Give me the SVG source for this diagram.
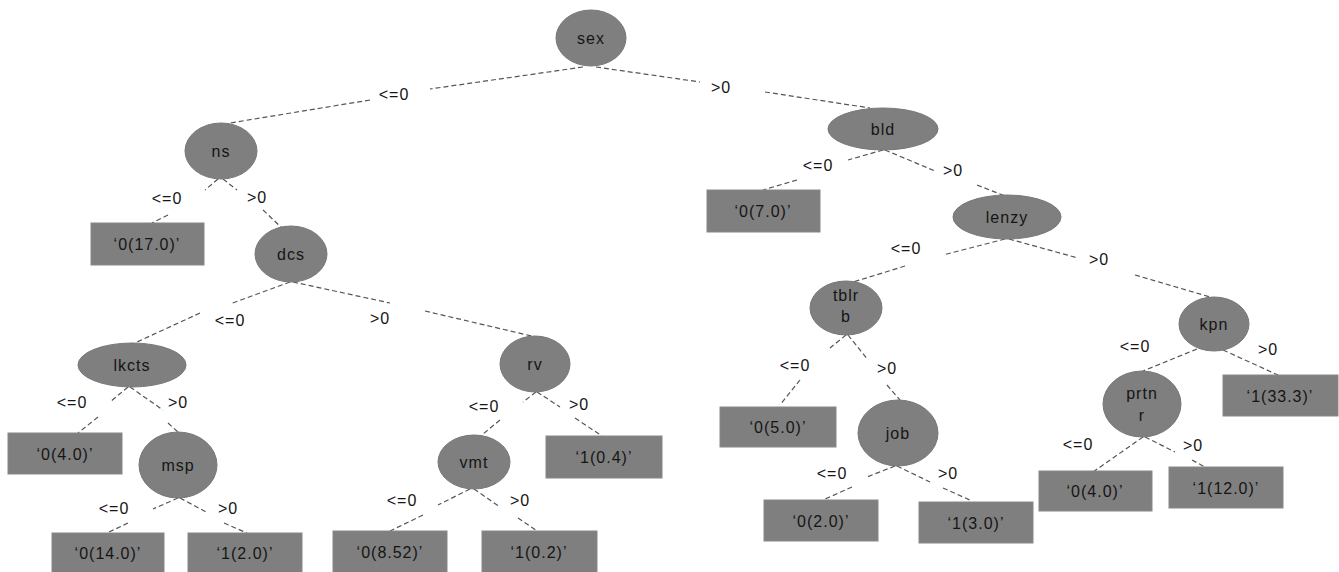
<svg xmlns="http://www.w3.org/2000/svg" width="1339" height="572" viewBox="0 0 1339 572">
<style>
.n{fill:#7f7f7f;stroke:#777;stroke-width:1}
.lf{fill:#7f7f7f;stroke:#888;stroke-width:1}
.t{font-family:"Liberation Sans",Arial,sans-serif;font-size:16px;fill:#151515;text-anchor:middle;letter-spacing:1px}
.e path{fill:none;stroke:#555;stroke-width:1.2;stroke-dasharray:5 3}
</style>
<rect width="1339" height="572" fill="#fff"/>
<g class="e" id="connectors">
<path d="M583,67 L430,89 M370,100 L230,123"/>
<path d="M596,67 L700,82 M765,92 L870,108"/>
<path d="M218,179 L205,190 M168,215 L152,223"/>
<path d="M223,179 L237,190 M263,210 L282,228"/>
<path d="M290,282 L230,304 M200,313 L137,342"/>
<path d="M293,282 L390,303 M425,311 L540,338"/>
<path d="M128,387 L110,402 M98,417 L78,433"/>
<path d="M130,387 L163,410 M168,423 L178,432"/>
<path d="M178,498 L153,509 M128,523 L107,533"/>
<path d="M180,498 L208,513 M224,523 L247,533"/>
<path d="M536,392 L523,402 M500,420 L483,434"/>
<path d="M537,392 L560,407 M575,418 L602,436"/>
<path d="M470,489 L438,505 M423,515 L390,531"/>
<path d="M474,489 L500,507 M518,518 L537,531"/>
<path d="M883,150 L848,160 M797,180 L763,190"/>
<path d="M885,150 L935,171 M977,185 L1005,196"/>
<path d="M1005,239 L943,255 M905,266 L850,283"/>
<path d="M1009,239 L1078,258 M1135,275 L1210,297"/>
<path d="M846,335 L830,348 M800,380 L780,405"/>
<path d="M848,335 L868,360 M887,385 L900,400"/>
<path d="M895,466 L867,477 M852,487 L823,500"/>
<path d="M897,466 L930,482 M943,488 L972,501"/>
<path d="M1197,349 L1143,371"/>
<path d="M1223,350 L1278,375"/>
<path d="M1143,437 L1093,472"/>
<path d="M1145,437 L1175,452 M1192,460 L1205,467"/>
</g>
<g id="edge-labels">
<text class="t" x="394" y="100">&lt;=0</text>
<text class="t" x="721" y="93">&gt;0</text>
<text class="t" x="167" y="204">&lt;=0</text>
<text class="t" x="257" y="203">&gt;0</text>
<text class="t" x="230" y="326">&lt;=0</text>
<text class="t" x="380" y="324">&gt;0</text>
<text class="t" x="72" y="408">&lt;=0</text>
<text class="t" x="178" y="408">&gt;0</text>
<text class="t" x="114" y="514">&lt;=0</text>
<text class="t" x="228" y="514">&gt;0</text>
<text class="t" x="484" y="412">&lt;=0</text>
<text class="t" x="579" y="410">&gt;0</text>
<text class="t" x="402" y="506">&lt;=0</text>
<text class="t" x="520" y="506">&gt;0</text>
<text class="t" x="818" y="171">&lt;=0</text>
<text class="t" x="953" y="176">&gt;0</text>
<text class="t" x="906" y="254">&lt;=0</text>
<text class="t" x="1099" y="265">&gt;0</text>
<text class="t" x="795" y="371">&lt;=0</text>
<text class="t" x="887" y="374">&gt;0</text>
<text class="t" x="832" y="479">&lt;=0</text>
<text class="t" x="948" y="479">&gt;0</text>
<text class="t" x="1135" y="352">&lt;=0</text>
<text class="t" x="1268" y="355">&gt;0</text>
<text class="t" x="1078" y="450">&lt;=0</text>
<text class="t" x="1193" y="451">&gt;0</text>
</g>
<g id="sex"><ellipse class="n" cx="591" cy="38" rx="35" ry="28"/><text class="t" x="591" y="44">sex</text></g>
<g id="ns"><ellipse class="n" cx="221" cy="151" rx="36" ry="28"/><text class="t" x="221" y="157">ns</text></g>
<g id="leaf-0-17"><rect class="lf" x="91" y="223" width="113" height="42"/><text class="t" x="147" y="250">‘0(17.0)’</text></g>
<g id="dcs"><ellipse class="n" cx="291" cy="254" rx="36" ry="28"/><text class="t" x="291" y="260">dcs</text></g>
<g id="lkcts"><ellipse class="n" cx="132" cy="365" rx="54" ry="22"/><text class="t" x="132" y="371">lkcts</text></g>
<g id="leaf-0-4a"><rect class="lf" x="8" y="433" width="114" height="41"/><text class="t" x="65" y="460">‘0(4.0)’</text></g>
<g id="msp"><ellipse class="n" cx="178" cy="465" rx="39" ry="33"/><text class="t" x="178" y="471">msp</text></g>
<g id="leaf-0-14"><rect class="lf" x="52" y="533" width="112" height="40"/><text class="t" x="108" y="559">‘0(14.0)’</text></g>
<g id="leaf-1-2"><rect class="lf" x="188" y="533" width="114" height="40"/><text class="t" x="245" y="559">‘1(2.0)’</text></g>
<g id="rv"><ellipse class="n" cx="535" cy="364" rx="35" ry="28"/><text class="t" x="535" y="370">rv</text></g>
<g id="vmt"><ellipse class="n" cx="474" cy="462" rx="36" ry="27"/><text class="t" x="474" y="468">vmt</text></g>
<g id="leaf-1-04"><rect class="lf" x="546" y="436" width="116" height="42"/><text class="t" x="604" y="463">‘1(0.4)’</text></g>
<g id="leaf-0-852"><rect class="lf" x="333" y="531" width="114" height="42"/><text class="t" x="390" y="558">‘0(8.52)’</text></g>
<g id="leaf-1-02"><rect class="lf" x="482" y="531" width="115" height="42"/><text class="t" x="539" y="558">‘1(0.2)’</text></g>
<g id="bld"><ellipse class="n" cx="883" cy="129" rx="55" ry="21"/><text class="t" x="883" y="135">bld</text></g>
<g id="leaf-0-7"><rect class="lf" x="707" y="190" width="113" height="42"/><text class="t" x="763" y="217">‘0(7.0)’</text></g>
<g id="lenzy"><ellipse class="n" cx="1007" cy="217" rx="54" ry="22"/><text class="t" x="1007" y="223">lenzy</text></g>
<g id="tblrb"><ellipse class="n" cx="846" cy="308" rx="36" ry="27"/><text class="t" x="846" y="301">tblr</text><text class="t" x="846" y="322">b</text></g>
<g id="leaf-0-5"><rect class="lf" x="720" y="407" width="116" height="40"/><text class="t" x="778" y="433">‘0(5.0)’</text></g>
<g id="job"><ellipse class="n" cx="898" cy="433" rx="40" ry="33"/><text class="t" x="898" y="439">job</text></g>
<g id="leaf-0-2"><rect class="lf" x="764" y="500" width="114" height="41"/><text class="t" x="821" y="527">‘0(2.0)’</text></g>
<g id="leaf-1-3"><rect class="lf" x="919" y="502" width="114" height="41"/><text class="t" x="976" y="529">‘1(3.0)’</text></g>
<g id="kpn"><ellipse class="n" cx="1214" cy="324" rx="35" ry="27"/><text class="t" x="1214" y="330">kpn</text></g>
<g id="leaf-1-333"><rect class="lf" x="1223" y="375" width="115" height="41"/><text class="t" x="1280" y="402">‘1(33.3)’</text></g>
<g id="prtnr"><ellipse class="n" cx="1142" cy="404" rx="39" ry="33"/><text class="t" x="1142" y="399">prtn</text><text class="t" x="1142" y="421">r</text></g>
<g id="leaf-0-4b"><rect class="lf" x="1039" y="471" width="113" height="40"/><text class="t" x="1095" y="497">‘0(4.0)’</text></g>
<g id="leaf-1-12"><rect class="lf" x="1169" y="467" width="114" height="41"/><text class="t" x="1226" y="494">‘1(12.0)’</text></g>
</svg>
